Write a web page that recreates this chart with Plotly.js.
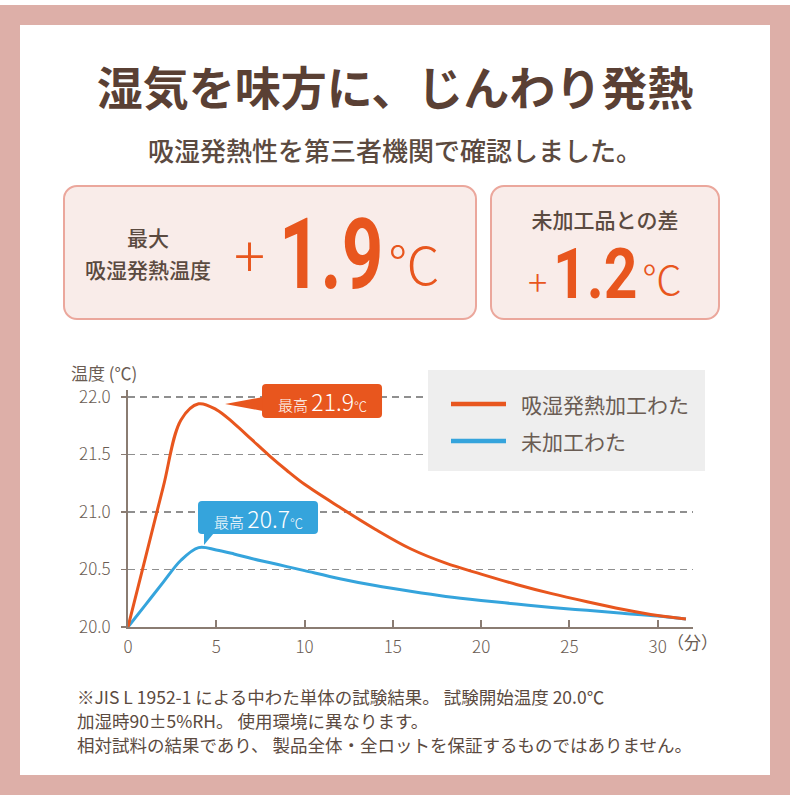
<!DOCTYPE html>
<html lang="ja">
<head>
<meta charset="utf-8">
<script src="https://cdn.plot.ly/plotly-3.0.1.min.js"></script>
<style>
body { margin: 0; background: #fff; font-family: "Noto Sans CJK JP", sans-serif; color: #5b4a40; }
#page { position: relative; width: 790px; height: 800px; overflow: hidden; }
#frame { position: absolute; left: 0; top: 5px; width: 790px; height: 790px; background: #ddafa8; }
#inner { position: absolute; left: 20px; top: 25px; width: 750px; height: 750px; background: #fff; }
.t { position: absolute; white-space: nowrap; line-height: 1; }
.c { transform: translateX(-50%); }
.box { position: absolute; top: 185px; height: 131px; background: #f9ece9; border: 2.5px solid #eba79c; border-radius: 14px; }
.num { font-family: Roboto, "DejaVu Sans Condensed", sans-serif; font-weight: 700; color: #e8561e; transform-origin: left top; }
.or { color: #e8561e; }
#graphDiv { position: absolute; left: 0; top: 0; width: 790px; height: 800px; }
</style>
</head>
<body>
<div id="page">
  <div id="frame"></div>
  <div id="inner"></div>

  <div class="t c" style="left:395px; top:62px; font-size:46px; font-weight:700; color:#5a4034;">湿気を味方に、じんわり発熱</div>
  <div class="t c" style="left:395px; top:137px; font-size:26px; font-weight:500;">吸湿発熱性を第三者機関で確認しました。</div>

  <div class="box" style="left:63px; width:410px;"></div>
  <div class="box" style="left:490px; width:226px;"></div>

  <div class="t c" style="left:148px; top:227px; font-size:21px; font-weight:500;">最大</div>
  <div class="t c" style="left:148px; top:259px; font-size:21px; font-weight:500;">吸湿発熱温度</div>
  <div class="t or" style="left:234px; top:224px; font-size:58px; font-weight:300;">+</div>
  <div class="t num" style="left:279px; top:206px; font-size:98px; transform:scaleX(0.74);">1.9</div>
  <div class="t or" style="left:388px; top:237px; font-size:52px; font-weight:300;">℃</div>

  <div class="t c" style="left:605px; top:209px; font-size:21px; font-weight:500;">未加工品との差</div>
  <div class="t or" style="left:528px; top:262px; font-size:36px; font-weight:300;">+</div>
  <div class="t num" style="left:553px; top:239px; font-size:70px; transform:scaleX(0.84);">1.2</div>
  <div class="t or" style="left:642px; top:258px; font-size:40px; font-weight:300;">℃</div>

  <div class="t" style="left:77px; top:688px; font-size:17.5px;">※JIS L 1952-1 による中わた単体の試験結果。 試験開始温度 20.0℃</div>
  <div class="t" style="left:77px; top:712px; font-size:17.5px;">加湿時90±5%RH。 使用環境に異なります。</div>
  <div class="t" style="left:77px; top:736px; font-size:17.5px;">相対試料の結果であり、 製品全体・全ロットを保証するものではありません。</div>

  <div id="graphDiv"></div>
</div>

<script>
// minutes after start, temperature in deg C
var minutes = [0, 1, 2, 3, 4, 5, 6, 7, 8, 9, 10, 12, 14, 16, 18, 20, 22, 24, 26, 28, 30, 31.6];
var heatTemp = [20.00, 20.61, 21.22, 21.80, 21.94, 21.89, 21.77, 21.63, 21.49, 21.36, 21.24, 21.04, 20.85, 20.68, 20.555, 20.46, 20.37, 20.29, 20.22, 20.155, 20.10, 20.07];
var plainTemp = [20.00, 20.195, 20.39, 20.58, 20.69, 20.67, 20.635, 20.595, 20.56, 20.525, 20.49, 20.42, 20.36, 20.31, 20.265, 20.23, 20.20, 20.17, 20.145, 20.12, 20.095, 20.07];
var seriesNames = ["吸湿発熱加工わた", "未加工わた"];
var seriesColors = ["#e8561e", "#35a4dc"];
var xTicks = [0, 5, 10, 15, 20, 25, 30];
var yTicks = [20.0, 20.5, 21.0, 21.5, 22.0];
var yTickText = ["20.0", "20.5", "21.0", "21.5", "22.0"];

var axisColor = "#8a7c72";
var textColor = "#6a5c53";

// plot area in page pixels
var L = 128, R = 693, T = 390, B = 627;
function fx(px) { return (px - L) / (R - L); }
function fy(py) { return (B - py) / (B - T); }
function pt(x, y) { return fx(x).toFixed(4) + "," + fy(y).toFixed(4); }

function roundRect(x0, y0, x1, y1, r) {
    return "M" + pt(x0 + r, y0) + " L" + pt(x1 - r, y0) + " Q" + pt(x1, y0) + " " + pt(x1, y0 + r) +
        " L" + pt(x1, y1 - r) + " Q" + pt(x1, y1) + " " + pt(x1 - r, y1) +
        " L" + pt(x0 + r, y1) + " Q" + pt(x0, y1) + " " + pt(x0, y1 - r) +
        " L" + pt(x0, y0 + r) + " Q" + pt(x0, y0) + " " + pt(x0 + r, y0) + " Z";
}

function peakLabel(values) {
    var peak = Math.max.apply(null, values).toFixed(1);
    return '<span style="font-size:15px">最高</span> <span style="font-size:23px">' + peak +
        '</span><span style="font-size:13px">℃</span>';
}

var data = [
    {
        type: "scatter", mode: "lines", x: minutes, y: plainTemp, name: seriesNames[1],
        line: {color: seriesColors[1], width: 3, shape: "spline", smoothing: 1}
    },
    {
        type: "scatter", mode: "lines", x: minutes, y: heatTemp, name: seriesNames[0],
        line: {color: seriesColors[0], width: 3, shape: "spline", smoothing: 1}
    }
];

var shapes = [
    // legend panel
    {type: "rect", xref: "paper", yref: "paper", x0: fx(428), x1: fx(705), y0: fy(370), y1: fy(471),
        fillcolor: "#eeeeee", line: {width: 0}},
    {type: "line", xref: "paper", yref: "paper", x0: fx(451), x1: fx(506), y0: fy(404), y1: fy(404),
        line: {color: seriesColors[0], width: 4.5}},
    {type: "line", xref: "paper", yref: "paper", x0: fx(451), x1: fx(506), y0: fy(441), y1: fy(441),
        line: {color: seriesColors[1], width: 4.5}},
    // callouts
    {type: "path", xref: "paper", yref: "paper", path: roundRect(262, 384, 382, 418, 4),
        fillcolor: seriesColors[0], line: {width: 0}},
    {type: "path", xref: "paper", yref: "paper", path: "M" + pt(263, 397) + " L" + pt(225, 404) + " L" + pt(263, 411) + " Z",
        fillcolor: seriesColors[0], line: {width: 0}},
    {type: "path", xref: "paper", yref: "paper", path: roundRect(198, 501, 318, 534, 4),
        fillcolor: seriesColors[1], line: {width: 0}},
    {type: "path", xref: "paper", yref: "paper", path: "M" + pt(204, 533) + " L" + pt(204, 545) + " L" + pt(214, 533) + " Z",
        fillcolor: seriesColors[1], line: {width: 0}}
];

var annotations = [
    {xref: "paper", yref: "paper", x: fx(322), y: fy(401), text: peakLabel(heatTemp), showarrow: false,
        font: {color: "#ffffff", size: 15, weight: 300}, xanchor: "center", yanchor: "middle"},
    {xref: "paper", yref: "paper", x: fx(258), y: fy(518), text: peakLabel(plainTemp), showarrow: false,
        font: {color: "#ffffff", size: 15, weight: 300}, xanchor: "center", yanchor: "middle"},
    {xref: "paper", yref: "paper", x: fx(519), y: fy(404), text: seriesNames[0], showarrow: false,
        font: {color: textColor, size: 21}, xanchor: "left", yanchor: "middle"},
    {xref: "paper", yref: "paper", x: fx(519), y: fy(441), text: seriesNames[1], showarrow: false,
        font: {color: textColor, size: 21}, xanchor: "left", yanchor: "middle"},
    {xref: "paper", yref: "paper", x: fx(69), y: fy(372), text: "温度 (℃)", showarrow: false,
        font: {color: textColor, size: 17}, xanchor: "left", yanchor: "middle"},
    {xref: "paper", yref: "paper", x: fx(665), y: fy(641), text: "（分）", showarrow: false,
        font: {color: textColor, size: 17}, xanchor: "left", yanchor: "middle"}
];

var layout = {
    width: 790,
    height: 800,
    margin: {l: L, r: 790 - R, t: T, b: 800 - B, pad: 0},
    paper_bgcolor: "rgba(0,0,0,0)",
    plot_bgcolor: "rgba(0,0,0,0)",
    showlegend: false,
    font: {family: '"Noto Sans CJK JP", sans-serif', color: textColor},
    xaxis: {
        range: [0, 32],
        tickvals: xTicks,
        ticks: "inside",
        ticklen: 7,
        tickwidth: 2,
        tickcolor: axisColor,
        showline: true,
        linecolor: axisColor,
        linewidth: 2,
        showgrid: false,
        zeroline: false,
        ticklabelstandoff: 4,
        tickfont: {size: 17, color: textColor, weight: 300}
    },
    yaxis: {
        range: [20, 22.06],
        tickvals: yTicks,
        ticktext: yTickText,
        ticks: "outside",
        ticklen: 5,
        tickwidth: 1.5,
        tickcolor: axisColor,
        showline: true,
        linecolor: axisColor,
        linewidth: 2,
        showgrid: true,
        gridcolor: "#8f8f8f",
        gridwidth: 1.2,
        griddash: "7px,5px",
        zeroline: false,
        ticklabelstandoff: 7,
        tickfont: {size: 17, color: textColor, weight: 300}
    },
    shapes: shapes,
    annotations: annotations
};

Plotly.newPlot("graphDiv", data, layout, {displayModeBar: false, staticPlot: true});
</script>
</body>
</html>
